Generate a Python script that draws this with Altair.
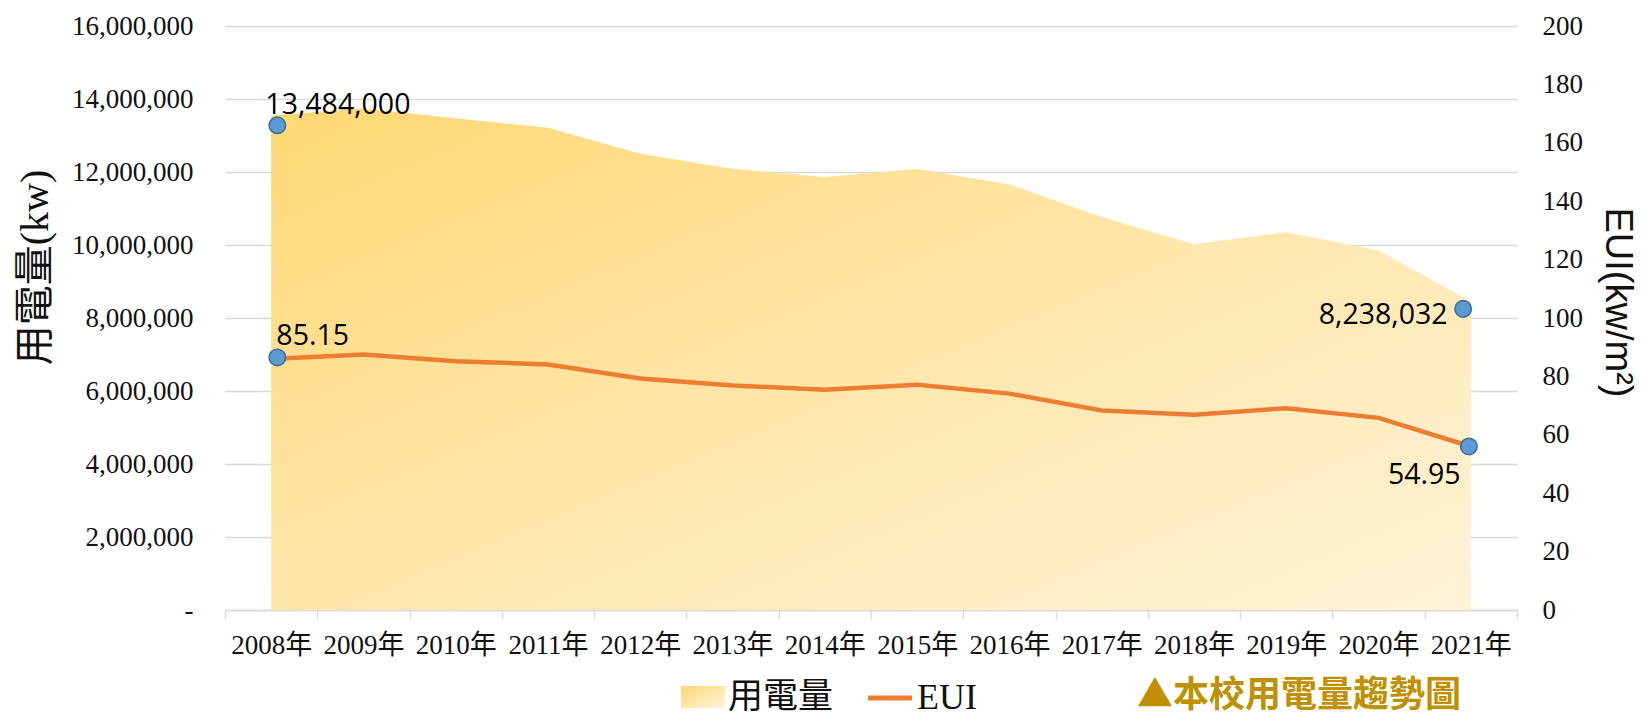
import altair as alt
import pandas as pd

# ---------------- data ----------------
years = ["2008年", "2009年", "2010年", "2011年", "2012年", "2013年", "2014年",
         "2015年", "2016年", "2017年", "2018年", "2019年", "2020年", "2021年"]
kw_usage = [13550000, 13740000, 13470000, 13210000, 12500000, 12090000, 11860000,
            12080000, 11660000, 10770000, 10020000, 10350000, 9850000, 8450000]
eui = [86.0, 87.5, 85.2, 84.1, 79.3, 76.9, 75.4, 77.1, 74.1, 68.3, 66.9, 69.1, 65.8, 56.0]

left_ticks = [0, 2000000, 4000000, 6000000, 8000000, 10000000, 12000000, 14000000, 16000000]
right_ticks = [0, 20, 40, 60, 80, 100, 120, 140, 160, 180, 200]

marker_years = ["2008年", "2021年"]
kw_marker_values = [13280000, 8250000]
kw_marker_labels = ["13,484,000", "8,238,032"]
eui_marker_values = [86.5, 56.0]
eui_marker_labels = ["85.15", "54.95"]

legend_labels = ["用電量", "EUI"]
caption = "▲本校用電量趨勢圖"
left_title = "用電量(kw)"
right_title = "EUI(kw/m²)"

df = pd.DataFrame({"year": years, "kw": kw_usage, "eui": eui})
kw_marks_df = pd.DataFrame({"year": marker_years, "value": kw_marker_values, "label": kw_marker_labels})
eui_marks_df = pd.DataFrame({"year": marker_years, "value": eui_marker_values, "label": eui_marker_labels})
one = pd.DataFrame({"a": [0]})

SERIF = "Liberation Serif, Noto Sans CJK TC"
W, H = 1292, 584

area_fill = alt.Gradient(
    gradient="linear",
    stops=[alt.GradientStop(color="#FFD874", offset=0),
           alt.GradientStop(color="#FFE6AA", offset=0.5),
           alt.GradientStop(color="#FFF3D8", offset=1)],
    x1=0, y1=0, x2=1, y2=1,
)

xaxis = alt.Axis(title=None, labelFont=SERIF, labelFontSize=27, labelColor="#111",
                 labelAngle=0, labelPadding=13, labelBaseline="top",
                 domainColor="#D9D9D9", domainWidth=1.5, tickColor="#D9D9D9",
                 tickWidth=1.5, tickSize=9, tickBand="extent", grid=False)
xenc = alt.X("year:N", sort=years,
             scale=alt.Scale(type="band", paddingInner=0, paddingOuter=0),
             axis=xaxis)

kw_scale = alt.Scale(domain=[0, 16000000], nice=False)
eui_scale = alt.Scale(domain=[0, 200], nice=False)

left_axis = alt.Axis(
    orient="left", values=left_ticks,
    labelExpr="datum.value == 0 ? '-\u00a0\u00a0' : format(datum.value, ',')",
    labelFont=SERIF, labelFontSize=27, labelColor="#111", labelPadding=32,
    domain=False, ticks=False, tickSize=0,
    grid=True, gridColor="#D9D9D9", gridWidth=1.3,
    title=left_title, titleFont=SERIF, titleFontSize=40, titleFontWeight="normal",
    titleColor="#111", titleX=-190, titleY=241, titleAngle=270,
    titleAlign="center", titleBaseline="middle",
)
right_axis = alt.Axis(
    orient="right", values=right_ticks,
    labelFont=SERIF, labelFontSize=27, labelColor="#111", labelPadding=25,
    domain=False, ticks=False, tickSize=0, grid=False,
    title=right_title, titleFont="Liberation Sans", titleFontSize=38,
    titleFontWeight="normal", titleColor="#111", titleX=99, titleY=276,
    titleAngle=90, titleAlign="center", titleBaseline="middle",
)

area = alt.Chart(df).mark_area(color=area_fill, opacity=1).encode(
    x=xenc, y=alt.Y("kw:Q", scale=kw_scale, axis=left_axis)
)
line = alt.Chart(df).mark_line(color="#ED7D31", strokeWidth=4.5).encode(
    x=xenc, y=alt.Y("eui:Q", scale=eui_scale, axis=right_axis)
)


def marker_layers(mdf, scale, axis, offsets, label_styles):
    layers = []
    for yr, off, (dx, dy, al) in zip(marker_years, offsets, label_styles):
        base = alt.Chart(mdf).transform_filter(alt.datum.year == yr)
        layers.append(
            base.mark_circle(color="#5B9BD5", stroke="#3E6E9A", strokeWidth=1.6,
                             size=270, opacity=1, xOffset=off).encode(
                x=xenc, y=alt.Y("value:Q", scale=scale, axis=axis))
        )
        layers.append(
            base.mark_text(font="Open Sans", fontSize=28.5, color="#000", align=al,
                           baseline="alphabetic", dx=dx, dy=dy).encode(
                x=xenc, y=alt.Y("value:Q", scale=scale, axis=axis), text="label:N")
        )
    return layers


kw_marks = marker_layers(kw_marks_df, kw_scale, left_axis, [6.2, -7.7],
                         [(-5.8, -11.7, "left"), (-23.3, 15.5, "right")])
eui_marks = marker_layers(eui_marks_df, eui_scale, right_axis, [6.2, -2.0],
                          [(5.2, -12.7, "left"), (-10.3, 37.3, "right")])

# legend and caption decorations
LY = 671
sw_area = alt.Chart(one).mark_rect(color=area_fill).encode(
    x=alt.value(456), x2=alt.value(500), y=alt.value(LY - 11), y2=alt.value(LY + 11))
sw_text1 = alt.Chart(one).mark_text(font=SERIF, fontSize=35, color="#111",
                                    align="left", baseline="middle").encode(
    x=alt.value(503), y=alt.value(LY), text=alt.value(legend_labels[0]))
sw_line = alt.Chart(one).mark_rule(color="#ED7D31", strokeWidth=5).encode(
    x=alt.value(643), x2=alt.value(687), y=alt.value(LY + 1))
sw_text2 = alt.Chart(one).mark_text(font=SERIF, fontSize=36, color="#111",
                                    align="left", baseline="middle").encode(
    x=alt.value(692), y=alt.value(LY + 1), text=alt.value(legend_labels[1]))
cap = alt.Chart(one).mark_text(font="Noto Sans CJK TC", fontSize=36, fontWeight="bold",
                               color="#BF9000", align="left", baseline="middle").encode(
    x=alt.value(912), y=alt.value(LY - 1), text=alt.value(caption))

kw_layer = alt.layer(area, *kw_marks, sw_area, sw_text1, sw_line, sw_text2, cap)
eui_layer = alt.layer(line, *eui_marks)

chart = alt.layer(kw_layer, eui_layer).resolve_scale(y="independent").properties(
    width=W, height=H,
    autosize=alt.AutoSizeParams(type="none"),
    padding={"left": 217, "top": 18, "right": 123, "bottom": 106},
    background="white",
).configure_view(stroke=None)

chart.save("out.html", embed_options={"renderer": "svg", "actions": False})
